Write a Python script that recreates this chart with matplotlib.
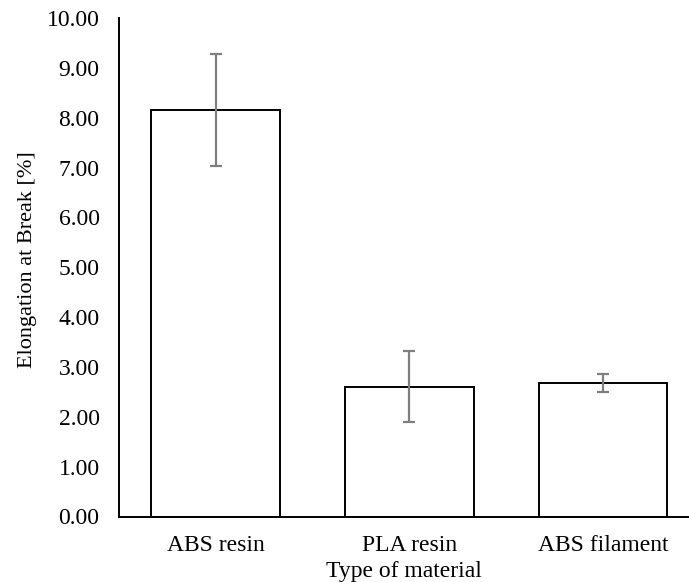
import matplotlib
matplotlib.use("Agg")
import matplotlib.pyplot as plt
from matplotlib.ticker import FormatStrFormatter, MultipleLocator

categories = ["ABS resin", "PLA resin", "ABS filament"]
values = [8.15, 2.60, 2.67]
errors = [1.12, 0.71, 0.18]

plt.rcParams['font.family'] = ['Liberation Serif', 'DejaVu Serif']

W, H = 689, 582
fig = plt.figure(figsize=(W / 100, H / 100), dpi=100)
left_px, right_px = 119, 689
top_px, bottom_px = 18, 516.5
ax_w = right_px - left_px
ax_h = bottom_px - top_px
ax = fig.add_axes([left_px / W, (H - bottom_px) / H, ax_w / W, ax_h / H])

x = list(range(len(categories)))
ax.bar(x, values, width=0.666, color='white', edgecolor='black', linewidth=1.4, zorder=2)
ax.errorbar(x, values, yerr=errors, fmt='none', ecolor='#7f7f7f', elinewidth=1.6,
            capsize=4.3, capthick=1.6, zorder=3)

span = 193.6
ax.set_xlim(-0.5, -0.5 + ax_w / span)
ax.set_ylim(0, 10)
ax.yaxis.set_major_locator(MultipleLocator(1))
ax.yaxis.set_major_formatter(FormatStrFormatter('%.2f'))
ax.set_xticks(x)
ax.set_xticklabels(categories)

for s in ['top', 'right']:
    ax.spines[s].set_visible(False)
ax.spines['left'].set_linewidth(1.4)
ax.spines['bottom'].set_linewidth(1.4)
ax.tick_params(axis='y', length=0, pad=14, labelsize=17)
ax.tick_params(axis='x', length=0, pad=13, labelsize=17)
ax.set_ylabel("Elongation at Break [%]", fontsize=16)
ax.yaxis.set_label_coords((37 - left_px) / ax_w, (bottom_px - 260) / ax_h)
ax.set_xlabel("Type of material", fontsize=17, labelpad=4)

fig.savefig("out.png", dpi=100)
